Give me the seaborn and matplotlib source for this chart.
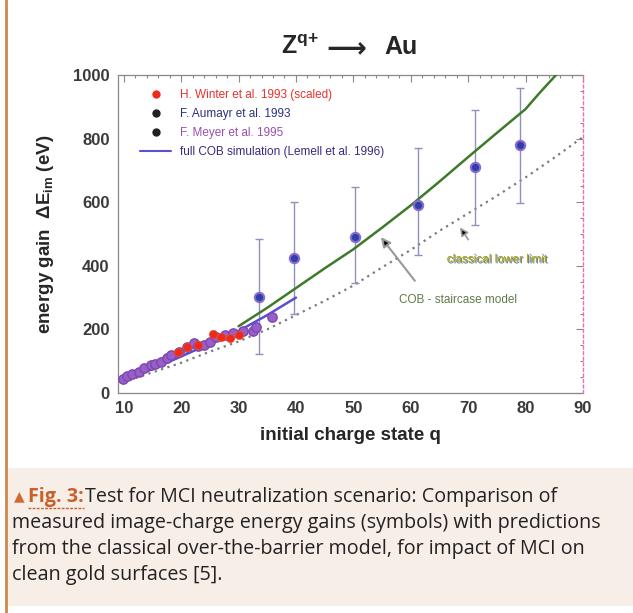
import numpy as np
import pandas as pd
import seaborn as sns
import matplotlib.pyplot as plt
import matplotlib.patheffects as pe
from matplotlib.lines import Line2D
from matplotlib.patches import Rectangle

# === Données ===
# H. Winter et al. 1993 (scaled)
winter_q = [19.5, 21, 23, 25.5, 27, 28.5, 30]
winter_E = [128, 145, 150, 186, 175, 172, 182]

# F. Meyer et al. 1995 (points denses, q faible)
meyer_q = [9.8, 10.5, 11.5, 12.6, 13.5, 14.7, 15.5, 16.5, 17.5, 18.3, 19.7, 21, 22.3,
           23, 24, 25, 26, 27.6, 29, 30.7, 32.5, 33, 35.8]
meyer_E = [45, 55, 60, 66, 78, 88, 92, 98, 110, 119, 129, 145, 157,
           147, 152, 160, 176, 182, 188, 195, 196, 208, 240]

# F. Aumayr et al. 1993 (avec barres d'erreur)
aum_q = [33.5, 39.7, 50.2, 61.2, 71.2, 79.1]
aum_E = [302, 424, 490, 591, 711, 780]
aum_lo = [123, 250, 346, 434, 528, 597]
aum_hi = [484, 600, 648, 770, 890, 959]

# full COB simulation (Lemell et al. 1996)
sim_q = [10, 15, 20, 25, 30, 35, 40]
sim_E = [42, 75, 115, 155, 195, 245, 300]

# COB - staircase model
stair_q = [30, 35, 40, 45, 50, 55, 60, 65, 70, 75, 80, 82.5, 85.3]
stair_E = [210, 268, 330, 392, 452, 520, 590, 665, 742, 818, 893, 945, 1000]

# classical lower limit
class_q = [11, 15, 20, 25, 30, 35, 40, 45, 50, 55, 60, 65, 70, 75, 80, 85, 90]
class_E = [40, 65, 95, 130, 162, 200, 245, 290, 338, 395, 450, 510, 565, 620, 678, 740, 805]

legend_labels = ["H. Winter et al. 1993 (scaled)", "F. Aumayr et al. 1993",
                 "F. Meyer et al. 1995", "full COB simulation (Lemell et al. 1996)"]
legend_colors = ["#e8322a", "#2d2f7e", "#9a4fb0", "#3a2a80"]

caption_lines = [
    "Test for MCI neutralization scenario: Comparison of",
    "measured image-charge energy gains (symbols) with predictions",
    "from the classical over-the-barrier model, for impact of MCI on",
    "clean gold surfaces [5].",
]

# === Style ===
sns.set_theme(style="white")
plt.rcParams["font.family"] = ["Liberation Sans", "DejaVu Sans"]
plt.rcParams["mathtext.fontset"] = "custom"
plt.rcParams["mathtext.rm"] = "Liberation Sans"
plt.rcParams["mathtext.it"] = "Liberation Sans:italic"
plt.rcParams["mathtext.bf"] = "Liberation Sans:bold"

fig = plt.figure(figsize=(6.33, 6.13), dpi=100)
fig.patch.set_facecolor("white")

# bandeau de légende (bas)
fig.add_artist(Rectangle((0.012, 1 - 606 / 613), 0.988, (606 - 468) / 613,
                         transform=fig.transFigure, facecolor="#f8eee8",
                         edgecolor="none", zorder=0))
fig.add_artist(Line2D([0.009, 0.009], [0, 1], transform=fig.transFigure,
                      color="#d0884a", lw=2))

ax = fig.add_axes([118 / 633, 1 - 393 / 613, 465 / 633, 318 / 613])

# courbes
sns.lineplot(x=class_q, y=class_E, ax=ax, color="#7a7a7a", lw=1.6,
             linestyle=(0, (1, 2)), zorder=2)
sns.lineplot(x=stair_q, y=stair_E, ax=ax, color="#3f7a2a", lw=1.8, zorder=3)
sns.lineplot(x=sim_q, y=sim_E, ax=ax, color="#5a4fd0", lw=1.8, zorder=3)

# barres d'erreur
aum_E_arr = np.array(aum_E)
ax.errorbar(aum_q, aum_E,
            yerr=[aum_E_arr - np.array(aum_lo), np.array(aum_hi) - aum_E_arr],
            fmt="none", ecolor="#9090c0", elinewidth=1, capsize=3, zorder=2)

# points
sns.scatterplot(x=meyer_q, y=meyer_E, ax=ax, color="#9a5ec8", s=45,
                edgecolor="#7b48b0", linewidth=1, zorder=4)
sns.scatterplot(x=winter_q, y=winter_E, ax=ax, color="#f02a18", s=35,
                edgecolor="#e8502a", linewidth=0.5, zorder=5)
sns.scatterplot(x=aum_q, y=aum_E, ax=ax, color="#2f3fa8", s=45,
                edgecolor="#8a6ad0", linewidth=1.5, zorder=5)

ax.set_xlim(9, 90)
ax.set_ylim(0, 1000)
ax.set_xticks(range(10, 91, 10))
ax.set_xticks(range(10, 91, 2), minor=True)
ax.set_yticks(range(0, 1001, 200))
ax.set_yticks(range(0, 1001, 50), minor=True)
ax.tick_params(which="both", direction="in", top=True, right=True,
               color="#888", width=0.8)
ax.tick_params(which="major", length=5, labelsize=12, labelcolor="#3a3a3a", pad=6)
ax.tick_params(which="minor", length=2.5)
for lab in ax.get_xticklabels() + ax.get_yticklabels():
    lab.set_fontweight("bold")

for side in ["left", "top", "bottom"]:
    ax.spines[side].set_color("#888")
    ax.spines[side].set_linestyle((0, (2, 1)))
    ax.spines[side].set_linewidth(0.9)
ax.spines["right"].set_color("#e070c8")
ax.spines["right"].set_linestyle((0, (2, 2)))
ax.spines["right"].set_linewidth(1)

ax.set_xlabel("initial charge state q", fontsize=13.5, fontweight="bold", labelpad=8)
ax.set_ylabel(r"energy gain  $\mathbf{\Delta E_{im}}$ (eV)", fontsize=13.5,
              fontweight="bold", labelpad=12)

# légende
handles = [
    Line2D([], [], marker="o", color="none", markerfacecolor="#f02a18",
           markeredgecolor="none", markersize=6),
    Line2D([], [], marker="o", color="none", markerfacecolor="#222",
           markeredgecolor="none", markersize=6),
    Line2D([], [], marker="o", color="none", markerfacecolor="#222",
           markeredgecolor="none", markersize=6),
    Line2D([], [], color="#5a4fd0", lw=1.5),
]
ax.legend(handles, legend_labels, loc="upper left", bbox_to_anchor=(0.025, 0.99),
          frameon=False, fontsize=8.5, labelcolor=legend_colors,
          handlelength=2.6, labelspacing=0.6, handletextpad=0.8)

# annotations
ax.text(68.3, 292, "COB - staircase model", fontsize=8.5, color="#5f7a48",
        ha="center", va="center")
ax.text(75, 420, "classical lower limit", fontsize=8.5, color="#b0a820",
        ha="center", va="center",
        path_effects=[pe.withSimplePatchShadow(offset=(0.7, -0.7),
                                               shadow_rgbFace="#3a6ad0", alpha=0.9),
                      pe.Normal()])
ax.annotate("", xy=(54.5, 497), xytext=(61, 346),
            arrowprops=dict(arrowstyle="-|>", fc="black", ec="#999", lw=1.5,
                            mutation_scale=14))
ax.annotate("", xy=(68.3, 528), xytext=(70.3, 475),
            arrowprops=dict(arrowstyle="-|>", fc="black", ec="#999", lw=1.2,
                            mutation_scale=12))

# titre
title_y = 1 - 47 / 613
fig.text(319 / 633, title_y, r"$\mathbf{Z^{q{+}}}$", fontsize=18,
         ha="right", va="center")
fig.text(346 / 633, title_y - 0.003, "\u27f6", fontsize=20, fontweight="bold",
         family="DejaVu Sans", ha="center", va="center")
fig.text(384 / 633, title_y, "Au", fontsize=18, fontweight="bold",
         ha="left", va="center")

# légende de figure
cap_size = 14.2
cap_fam = ["Open Sans", "DejaVu Sans"]
fig.canvas.draw()
renderer = fig.canvas.get_renderer()
head = fig.text(14 / 633, 1 - 497 / 613, "\u25b2 ", fontsize=10, color="#d06a30",
                family=cap_fam, va="center")
bb = head.get_window_extent(renderer)
fig_lab = fig.text(bb.x1 / 633, 1 - 497 / 613, "Fig. 3:", fontsize=cap_size,
                   color="#c8602a", fontweight="bold", family=cap_fam, va="center")
bb2 = fig_lab.get_window_extent(renderer)
fig.add_artist(Line2D([bb2.x0 / 633, bb2.x1 / 633], [(bb2.y0 - 1) / 613] * 2,
                      transform=fig.transFigure, color="#c8602a", lw=1,
                      linestyle=(0, (2, 1))))
fig.text(bb2.x1 / 633 + 0.002, 1 - 497 / 613, caption_lines[0], fontsize=cap_size,
         color="#222", family=cap_fam, va="center")
for i, line in enumerate(caption_lines[1:]):
    fig.text(12 / 633, 1 - (523 + 26 * i) / 613, line, fontsize=cap_size,
             color="#222", family=cap_fam, va="center")

fig.savefig("out.png", dpi=100)
